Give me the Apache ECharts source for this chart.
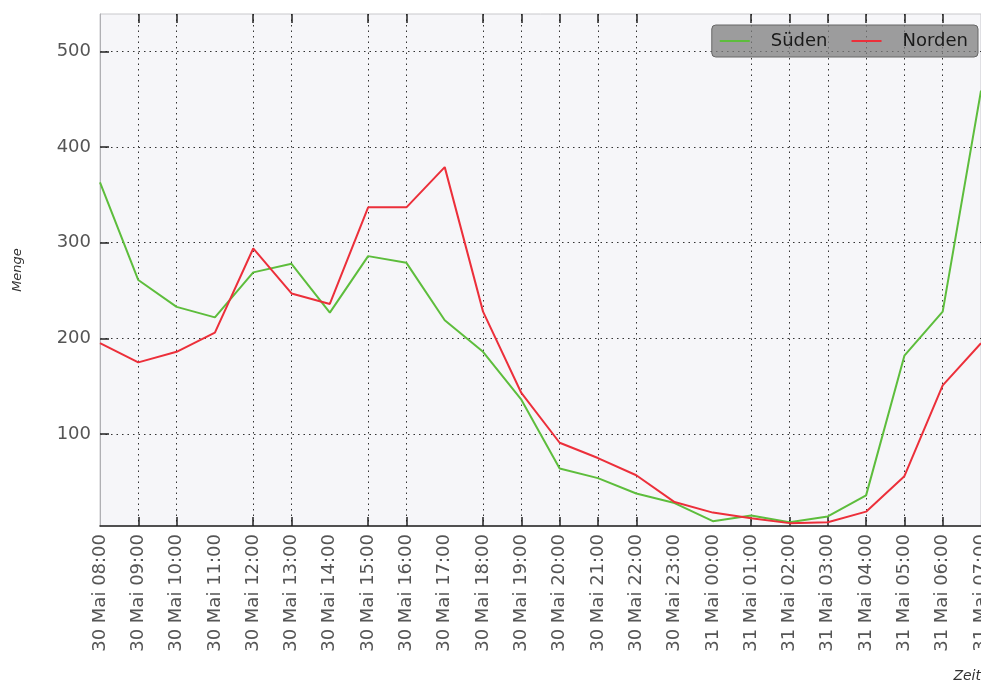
<!DOCTYPE html>
<html>
<head>
<meta charset="utf-8">
<script src="https://cdn.jsdelivr.net/npm/echarts@6/dist/echarts.min.js"></script>
<style>
  html, body { margin: 0; padding: 0; background: #fff; }
</style>
</head>
<body>
<div id="main" style="width: 981px; height: 684px;"></div>
<script>
// Zeitpunkte (stündlich)
var zeiten = [
  '30 Mai 08:00', '30 Mai 09:00', '30 Mai 10:00', '30 Mai 11:00', '30 Mai 12:00',
  '30 Mai 13:00', '30 Mai 14:00', '30 Mai 15:00', '30 Mai 16:00', '30 Mai 17:00',
  '30 Mai 18:00', '30 Mai 19:00', '30 Mai 20:00', '30 Mai 21:00', '30 Mai 22:00',
  '30 Mai 23:00', '31 Mai 00:00', '31 Mai 01:00', '31 Mai 02:00', '31 Mai 03:00',
  '31 Mai 04:00', '31 Mai 05:00', '31 Mai 06:00', '31 Mai 07:00'
]
var sueden = [363, 261, 233, 222, 269, 278, 227, 286, 279, 219, 186, 136,
  64, 54, 38, 28, 9, 15, 8, 14, 36, 182, 228, 459]
var norden = [195, 175, 186, 206, 294, 247, 236, 337, 337, 379, 228, 143,
  91, 75, 57, 29, 18, 12, 7, 8, 19, 56, 151, 195]
// Ticks / Gitterlinien, die im Original gesetzt sind
var tickIndex = [1, 2, 4, 5, 7, 8, 10, 11, 12, 13, 14, 17, 18, 19, 20, 21, 22]
var yTicks = [100, 200, 300, 400, 500]

var font = 'DejaVu Sans'
function hasTick (i) {
  return tickIndex.indexOf(i) !== -1
}

var chart = echarts.init(document.getElementById('main'))
var option = {
  animation: false,
  textStyle: { fontFamily: font },
  grid: {
    left: 100,
    right: 0,
    top: 14,
    bottom: 158,
    outerBoundsMode: 'none',
    containLabel: false,
    show: true,
    backgroundColor: '#f6f6f9',
    borderColor: '#c8c8cc',
    borderWidth: 1
  },
  legend: {
    right: 3,
    top: 25,
    itemWidth: 30,
    itemHeight: 2,
    itemGap: 24,
    padding: [7, 10, 7, 8],
    backgroundColor: 'rgba(125,125,125,0.75)',
    borderColor: '#666',
    borderWidth: 1,
    borderRadius: 4,
    textStyle: { fontFamily: font, fontSize: 18, color: '#1a1a1a', padding: [0, 0, 0, 16] },
    data: [
      { name: 'Süden', icon: 'rect' },
      { name: 'Norden', icon: 'rect' }
    ]
  },
  graphic: [{
    type: 'text',
    right: 0,
    top: 669,
    style: { text: 'Zeit', font: 'italic 14px "DejaVu Sans"', fill: '#333' }
  }],
  xAxis: [{
    type: 'category',
    data: zeiten,
    boundaryGap: false,
    axisLine: { lineStyle: { color: '#222', width: 1.5 } },
    axisTick: {
      inside: true,
      length: 9,
      interval: function (i) { return hasTick(i) },
      lineStyle: { color: '#222', width: 1.5 }
    },
    axisLabel: {
      rotate: 90,
      interval: 0,
      margin: 8,
      fontSize: 18,
      color: '#555',
      fontFamily: font
    },
    splitLine: {
      show: true,
      interval: function (i) { return hasTick(i) },
      lineStyle: { color: '#333', type: [1.5, 4], width: 1 }
    }
  }, {
    type: 'category',
    data: zeiten,
    position: 'top',
    boundaryGap: false,
    axisLine: { show: false },
    axisTick: {
      inside: true,
      length: 9,
      interval: function (i) { return hasTick(i) },
      lineStyle: { color: '#222', width: 1.5 }
    },
    axisLabel: { show: false },
    splitLine: { show: false }
  }],
  yAxis: {
    type: 'value',
    min: 4,
    max: 539,
    name: 'Menge',
    nameLocation: 'middle',
    nameGap: 76,
    nameTextStyle: { fontStyle: 'italic', fontSize: 13, color: '#333', fontFamily: font },
    axisLine: { show: true, lineStyle: { color: '#b0b0b4', width: 1 } },
    axisTick: {
      show: true,
      inside: true,
      length: 9,
      customValues: yTicks,
      lineStyle: { color: '#222', width: 1.5 }
    },
    axisLabel: {
      margin: 9,
      fontSize: 18,
      color: '#555',
      fontFamily: font,
      customValues: yTicks
    },
    splitLine: {
      show: true,
      lineStyle: { color: '#333', type: [1.5, 4], width: 1 }
    }
  },
  series: [
    {
      name: 'Süden',
      type: 'line',
      data: sueden,
      showSymbol: false,
      symbol: 'none',
      color: '#5dbd3c',
      lineStyle: { width: 2, color: '#5dbd3c' }
    },
    {
      name: 'Norden',
      type: 'line',
      data: norden,
      showSymbol: false,
      symbol: 'none',
      color: '#ec2f3a',
      lineStyle: { width: 2, color: '#ec2f3a' }
    }
  ]
}
chart.setOption(option)
</script>
</body>
</html>
